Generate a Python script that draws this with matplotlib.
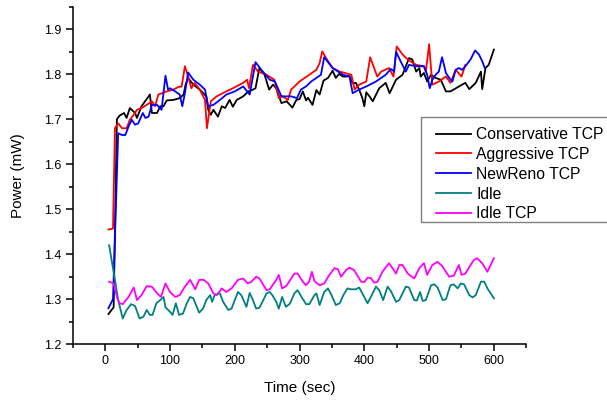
# -*- coding: utf-8 -*-

'''
Power vs time for the TCP variants and the idle baselines
'''

import matplotlib
matplotlib.use('Agg')
import matplotlib.pyplot as plt
from matplotlib.patches import Rectangle
from matplotlib.ticker import MultipleLocator

################################################################################
# data

cons_x = [5, 13, 18, 22, 29, 33, 38, 46, 49, 56, 63, 69, 72, 80, 85, 90, 95, 105,
          115, 121, 124, 128, 136, 146, 156, 159, 163, 167, 174, 180, 185, 192,
          197, 203, 213, 221, 228, 232, 238, 246, 253, 259, 264, 272, 280, 289,
          295, 300, 305, 310, 313, 320, 326, 331, 337, 344, 351, 356, 361, 367,
          372, 377, 382, 387, 392, 397, 400, 403, 408, 413, 423, 433, 439, 449,
          459, 469, 474, 480, 485, 487, 492, 497, 503, 510, 518, 526, 533, 546,
          556, 562, 572, 580, 582, 587, 592, 600]
cons_y = [1.267, 1.282, 1.700, 1.708, 1.714, 1.703, 1.725, 1.714, 1.703, 1.729,
          1.743, 1.755, 1.714, 1.714, 1.729, 1.729, 1.742, 1.743, 1.747, 1.755,
          1.777, 1.792, 1.777, 1.766, 1.751, 1.721, 1.710, 1.721, 1.706, 1.729,
          1.725, 1.743, 1.728, 1.743, 1.751, 1.762, 1.766, 1.769, 1.814, 1.799,
          1.766, 1.777, 1.769, 1.736, 1.740, 1.726, 1.743, 1.745, 1.762, 1.742,
          1.748, 1.732, 1.765, 1.755, 1.786, 1.792, 1.808, 1.792, 1.801, 1.795,
          1.795, 1.796, 1.780, 1.781, 1.766, 1.747, 1.729, 1.760, 1.751, 1.740,
          1.769, 1.781, 1.758, 1.788, 1.799, 1.836, 1.833, 1.806, 1.814, 1.795,
          1.803, 1.784, 1.799, 1.792, 1.788, 1.762, 1.762, 1.773, 1.781, 1.767,
          1.781, 1.806, 1.767, 1.814, 1.821, 1.855]

aggr_x = [5, 12, 15, 20, 26, 33, 38, 44, 49, 56, 64, 72, 77, 82, 95, 105, 113,
          118, 123, 128, 133, 138, 146, 154, 157, 163, 172, 187, 197, 213, 219,
          222, 228, 236, 249, 261, 268, 274, 282, 287, 300, 315, 326, 331, 335,
          341, 351, 362, 380, 385, 392, 403, 409, 420, 426, 438, 445, 450, 459,
          467, 480, 492, 495, 500, 505, 515, 526, 533, 541, 550, 556]
aggr_y = [1.455, 1.457, 1.680, 1.691, 1.680, 1.680, 1.699, 1.710, 1.721, 1.725,
          1.732, 1.740, 1.729, 1.755, 1.762, 1.766, 1.772, 1.773, 1.818, 1.795,
          1.769, 1.781, 1.766, 1.743, 1.680, 1.740, 1.751, 1.762, 1.769, 1.781,
          1.788, 1.769, 1.821, 1.806, 1.799, 1.788, 1.747, 1.751, 1.743, 1.766,
          1.784, 1.799, 1.810, 1.825, 1.851, 1.836, 1.814, 1.806, 1.799, 1.766,
          1.777, 1.784, 1.838, 1.795, 1.806, 1.814, 1.795, 1.862, 1.844, 1.833,
          1.821, 1.818, 1.806, 1.867, 1.777, 1.784, 1.795, 1.781, 1.810, 1.795,
          1.821]

reno_x = [5, 12, 20, 26, 31, 36, 41, 46, 51, 58, 62, 67, 72, 80, 87, 93, 97,
          100, 108, 115, 119, 123, 128, 136, 146, 154, 159, 167, 177, 187, 200,
          213, 223, 232, 241, 254, 262, 272, 280, 287, 296, 302, 310, 318, 333,
          338, 351, 367, 377, 382, 392, 403, 418, 433, 441, 446, 449, 456, 464,
          469, 480, 492, 497, 501, 505, 510, 515, 520, 526, 531, 536, 541, 546,
          551, 556, 564, 571, 577, 582, 586]
reno_y = [1.280, 1.300, 1.669, 1.665, 1.665, 1.684, 1.699, 1.688, 1.691, 1.714,
          1.703, 1.706, 1.732, 1.732, 1.721, 1.797, 1.766, 1.769, 1.762, 1.755,
          1.729, 1.758, 1.804, 1.788, 1.777, 1.766, 1.729, 1.732, 1.743, 1.755,
          1.762, 1.773, 1.755, 1.827, 1.810, 1.788, 1.784, 1.751, 1.751, 1.751,
          1.747, 1.766, 1.773, 1.784, 1.799, 1.838, 1.814, 1.799, 1.795, 1.758,
          1.766, 1.773, 1.784, 1.799, 1.812, 1.806, 1.850, 1.829, 1.806, 1.821,
          1.818, 1.818, 1.799, 1.769, 1.788, 1.799, 1.806, 1.838, 1.803, 1.792,
          1.784, 1.810, 1.814, 1.810, 1.818, 1.833, 1.853, 1.844, 1.829, 1.814]

idle_x = [6, 15, 20, 27, 33, 40, 46, 53, 59, 64, 69, 73, 79, 85, 90, 93, 100,
          104, 109, 114, 120, 126, 131, 136, 145, 151, 156, 162, 165, 169, 177,
          182, 190, 195, 200, 205, 210, 218, 223, 228, 233, 238, 244, 249, 254,
          258, 264, 268, 273, 279, 285, 292, 297, 303, 310, 315, 323, 326, 331,
          338, 344, 349, 356, 362, 368, 374, 379, 387, 392, 398, 405, 410, 418,
          423, 429, 436, 441, 449, 454, 464, 469, 477, 481, 486, 490, 495, 503,
          508, 513, 521, 526, 533, 538, 544, 549, 554, 562, 567, 572, 580, 585,
          590, 600]
idle_y = [1.420, 1.343, 1.298, 1.257, 1.276, 1.289, 1.285, 1.257, 1.261, 1.276,
          1.265, 1.265, 1.291, 1.298, 1.305, 1.282, 1.272, 1.265, 1.291, 1.265,
          1.268, 1.291, 1.305, 1.302, 1.270, 1.279, 1.298, 1.309, 1.294, 1.309,
          1.313, 1.294, 1.276, 1.279, 1.298, 1.316, 1.309, 1.283, 1.314, 1.298,
          1.279, 1.281, 1.298, 1.313, 1.316, 1.309, 1.294, 1.279, 1.305, 1.283,
          1.290, 1.313, 1.320, 1.305, 1.289, 1.289, 1.309, 1.313, 1.287, 1.316,
          1.324, 1.310, 1.287, 1.291, 1.310, 1.324, 1.322, 1.322, 1.326, 1.310,
          1.291, 1.305, 1.328, 1.320, 1.298, 1.328, 1.318, 1.294, 1.298, 1.328,
          1.326, 1.298, 1.297, 1.316, 1.296, 1.298, 1.331, 1.333, 1.326, 1.298,
          1.300, 1.331, 1.333, 1.324, 1.335, 1.333, 1.309, 1.304, 1.309, 1.339,
          1.339, 1.324, 1.302]

idle_tcp_x = [6, 13, 18, 22, 27, 36, 44, 49, 56, 64, 72, 80, 86, 93, 100, 108,
              115, 123, 131, 139, 145, 152, 159, 167, 172, 180, 187, 195, 205,
              213, 220, 225, 233, 238, 249, 254, 264, 268, 273, 280, 287, 292,
              297, 305, 310, 315, 319, 323, 331, 338, 346, 354, 359, 364, 372,
              377, 384, 395, 400, 405, 410, 415, 420, 428, 438, 444, 449, 454,
              459, 467, 477, 485, 492, 497, 505, 513, 520, 531, 538, 546, 550,
              556, 564, 569, 574, 582, 590, 600]
idle_tcp_y = [1.339, 1.335, 1.305, 1.291, 1.289, 1.305, 1.326, 1.298, 1.309,
              1.329, 1.328, 1.313, 1.305, 1.335, 1.316, 1.305, 1.309, 1.328,
              1.343, 1.322, 1.343, 1.343, 1.335, 1.313, 1.309, 1.324, 1.316,
              1.324, 1.343, 1.346, 1.335, 1.338, 1.350, 1.346, 1.320, 1.322,
              1.343, 1.354, 1.324, 1.330, 1.346, 1.357, 1.357, 1.339, 1.331,
              1.340, 1.361, 1.340, 1.331, 1.335, 1.354, 1.369, 1.367, 1.350,
              1.365, 1.370, 1.365, 1.339, 1.338, 1.348, 1.347, 1.337, 1.338,
              1.361, 1.380, 1.368, 1.357, 1.376, 1.376, 1.357, 1.346, 1.369,
              1.380, 1.354, 1.376, 1.383, 1.374, 1.350, 1.352, 1.376, 1.354,
              1.357, 1.376, 1.387, 1.391, 1.380, 1.361, 1.391]

series = [
    ('Conservative TCP', cons_x, cons_y, 'black'),
    ('Aggressive TCP', aggr_x, aggr_y, '#ff0000'),
    ('NewReno TCP', reno_x, reno_y, '#0000ff'),
    ('Idle', idle_x, idle_y, '#008080'),
    ('Idle TCP', idle_tcp_x, idle_tcp_y, '#ff00ff'),
]

################################################################################

plt.rcParams['font.family'] = ['Liberation Sans', 'DejaVu Sans']

W, H = 607, 403
fig = plt.figure(figsize=(W / 100, H / 100), dpi=100)
ax = fig.add_axes([0.12, 0.146, 0.747, 0.837])

for name, xs, ys, color in series:
    ax.plot(xs, ys, color=color, lw=1.3, label=name)

ax.set_xlim(-50, 650)
ax.set_ylim(1.2, 1.95)
ax.xaxis.set_minor_locator(MultipleLocator(50))
ax.yaxis.set_minor_locator(MultipleLocator(0.05))
ax.set_xticks([0, 100, 200, 300, 400, 500, 600])
ax.set_yticks([1.2, 1.3, 1.4, 1.5, 1.6, 1.7, 1.8, 1.9])

for side in ['top', 'right']:
    ax.spines[side].set_visible(False)
for side in ['left', 'bottom']:
    ax.spines[side].set_linewidth(1.1)

ax.tick_params(which='major', direction='out', length=5, width=1.1,
               labelsize=9, pad=3)
ax.tick_params(which='minor', direction='out', length=3, width=1.1)

ax.set_xlabel('Time (sec)', fontsize=11, labelpad=10)
ax.set_ylabel('Power (mW)', fontsize=11, labelpad=14)

# legend without its own frame, the box is drawn separately (it runs off the right edge)
leg = ax.legend(loc='upper left', bbox_to_anchor=(436 / W, 1 - 127 / H),
                bbox_transform=fig.transFigure, borderaxespad=0, borderpad=0,
                fontsize=11.3, frameon=False, handlelength=2.2,
                handletextpad=0.38, labelspacing=0.31)
fig.add_artist(Rectangle((420.7 / W, 1 - 221.7 / H), 200 / W, 105 / H,
                         transform=fig.transFigure, fill=False,
                         edgecolor='#808080', lw=1.0))

fig.savefig('out.png', dpi=100)
